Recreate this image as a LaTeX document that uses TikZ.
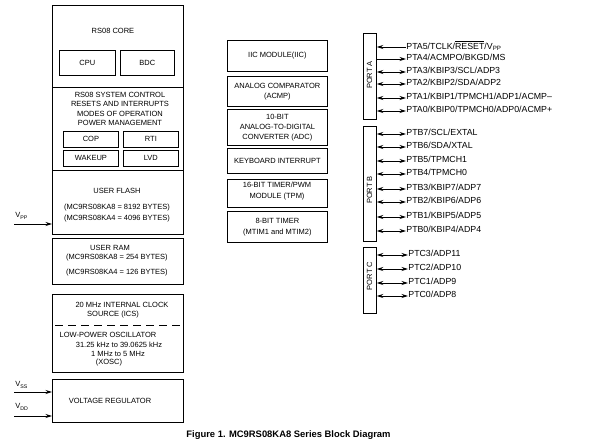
\documentclass[tikz,border=0pt]{standalone}
\usepackage{fontspec}
\setmainfont{Liberation Sans}
\usetikzlibrary{arrows.meta}
\newcommand\pinsig[6]{%
  \coordinate (#2) at (#4,#3);
  \node[sig] (#2t) at (#4,#3-1.5) {#6};
  \draw[#5] (#1.east |- #2) -- (#2);}
\begin{document}
\begin{tikzpicture}[x=1pt,y=-1pt,line width=0.75pt,
  >={Stealth[length=6.5pt,width=4pt]},
  box/.style={draw, anchor=north west, inner sep=0pt},
  txt/.style={font=\fontsize{7.5}{10}\selectfont, align=center, inner sep=0pt},
  lead/.style={font=\fontsize{7.5}{#1}\selectfont},
  sig/.style={font=\fontsize{8.8}{10}\selectfont, anchor=west, inner sep=0pt},
  plab/.style={rotate=90, font=\fontsize{7.5}{9}\selectfont, inner sep=0pt},
  lbl/.style={font=\fontsize{7.5}{9}\selectfont, anchor=west, inner sep=0pt}]
\useasboundingbox (0,0) rectangle (596,446);
% core
\node[box, minimum width=131, minimum height=82] (core) at (52,5) {};
\node[txt] (coret) at (113,31) {RS08 CORE};
\node[box, txt, minimum width=56, minimum height=25] (cpu) at (59,50) {CPU};
\node[box, txt, minimum width=54, minimum height=25] (bdc) at (120,50) {BDC};
% system control
\node[box, minimum width=131, minimum height=83] (sys) at (52,87) {};
\node[txt, lead=9.3] (syst) at (120,109) {RS08 SYSTEM CONTROL\\RESETS AND INTERRUPTS\\MODES OF OPERATION\\POWER MANAGEMENT};
\node[box, txt, minimum width=55, minimum height=16] (cop) at (63,131) {COP};
\node[box, txt, minimum width=55, minimum height=16] (rti) at (123,131) {RTI};
\node[box, txt, minimum width=55, minimum height=16] (wak) at (63,150) {WAKEUP};
\node[box, txt, minimum width=55, minimum height=16] (lvd) at (123,150) {LVD};
% flash
\node[box, minimum width=131, minimum height=64] (flash) at (52,170) {};
\node[txt] (flasht) at (117,191) {USER FLASH};
\node[txt, lead=11] (flashs) at (117,213.5) {(MC9RS08KA8 = 8192 BYTES)\\(MC9RS08KA4 = 4096 BYTES)};
% ram
\node[box, minimum width=131, minimum height=46] (ram) at (52,238) {};
\node[txt] (ramt) at (110,248) {USER RAM};
\node[txt, lead=15] (rams) at (117,265.5) {(MC9RS08KA8 = 254 BYTES)\\(MC9RS08KA4 = 126 BYTES)};
% clock
\node[box, minimum width=131, minimum height=78] (clk) at (52,294) {};
\node[txt] (ics1) at (122,305) {20 MHz INTERNAL CLOCK};
\node[txt] (ics2) at (113,315) {SOURCE (ICS)};
\coordinate (dsh) at (55,325);
\coordinate (dshe) at (181,325);
\draw[dash pattern=on 8pt off 5pt] (dsh) -- (dshe);
\node[txt] (xo1) at (108,335) {LOW-POWER OSCILLATOR};
\node[txt] (xo2) at (119,345) {31.25 kHz to 39.0625 kHz};
\node[txt] (xo3) at (118,354) {1 MHz to 5 MHz};
\node[txt] (xo4) at (109,363) {(XOSC)};
% regulator
\node[box, minimum width=131, minimum height=43] (reg) at (52,379) {};
\node[txt] (regt) at (110,401) {VOLTAGE REGULATOR};
% power inputs
\coordinate (vpp) at (14,224);
\draw[->] (vpp) -- (flash.west |- vpp);
\node[lbl] (vppl) at (15,216) {V\textsubscript{PP}};
\coordinate (vss) at (14,392);
\draw[->] (vss) -- (reg.west |- vss);
\node[lbl] (vssl) at (15,385) {V\textsubscript{SS}};
\coordinate (vdd) at (14,416);
\draw[->] (vdd) -- (reg.west |- vdd);
\node[lbl] (vddl) at (15,407) {V\textsubscript{DD}};
% middle column
\node[box, txt, minimum width=100, minimum height=31] (iic) at (227,40) {IIC MODULE(IIC)};
\node[box, txt, lead=10, minimum width=100, minimum height=30] (acmp) at (227,76) {ANALOG COMPARATOR\\(ACMP)};
\node[box, txt, lead=10, minimum width=100, minimum height=36] (adc) at (227,109) {10-BIT\\ANALOG-TO-DIGITAL\\CONVERTER (ADC)};
\node[box, txt, minimum width=100, minimum height=25] (kbi) at (227,148) {KEYBOARD INTERRUPT};
\node[box, minimum width=100, minimum height=28] (tpm) at (227,179) {};
\node[txt, lead=11] (tpmt) at (277,191.5) {16-BIT TIMER/PWM\\MODULE (TPM)};
\node[box, txt, lead=11, minimum width=100, minimum height=31] (mtim) at (227,211) {8-BIT TIMER\\(MTIM1 and MTIM2)};
% ports
\node[box, minimum width=13, minimum height=86] (pa) at (363,33) {};
\node[plab] (pal) at (369.5,75) {PORT A};
\node[box, minimum width=13, minimum height=115] (pb) at (363,126) {};
\node[plab] (pbl) at (369.5,190) {PORT B};
\node[box, minimum width=13, minimum height=66] (pc) at (363,247) {};
\node[plab] (pcl) at (369.5,276) {PORT C};
% port A pins
\pinsig{pa}{a5}{47}{406}{<-}{PTA5/TCLK/$\overline{\mbox{RESET}}$/V\textsubscript{PP}}
\pinsig{pa}{a4}{59}{406}{->}{PTA4/ACMPO/BKGD/MS}
\pinsig{pa}{a3}{72}{406}{<->}{PTA3/KBIP3/SCL/ADP3}
\pinsig{pa}{a2}{84}{406}{<->}{PTA2/KBIP2/SDA/ADP2}
\pinsig{pa}{a1}{98}{406}{<->}{PTA1/KBIP1/TPMCH1/ADP1/ACMP–}
\pinsig{pa}{a0}{111}{406}{<->}{PTA0/KBIP0/TPMCH0/ADP0/ACMP+}
% port B pins
\pinsig{pb}{b7}{134}{406}{<->}{PTB7/SCL/EXTAL}
\pinsig{pb}{b6}{147}{406}{<->}{PTB6/SDA/XTAL}
\pinsig{pb}{b5}{161}{406}{<->}{PTB5/TPMCH1}
\pinsig{pb}{b4}{174}{406}{<->}{PTB4/TPMCH0}
\pinsig{pb}{b3}{189}{406}{<->}{PTB3/KBIP7/ADP7}
\pinsig{pb}{b2}{202}{406}{<->}{PTB2/KBIP6/ADP6}
\pinsig{pb}{b1}{217}{406}{<->}{PTB1/KBIP5/ADP5}
\pinsig{pb}{b0}{231}{406}{<->}{PTB0/KBIP4/ADP4}
% port C pins
\pinsig{pc}{c3}{255}{408}{<->}{PTC3/ADP11}
\pinsig{pc}{c2}{269}{408}{<->}{PTC2/ADP10}
\pinsig{pc}{c1}{283}{408}{<->}{PTC1/ADP9}
\pinsig{pc}{c0}{296}{408}{<->}{PTC0/ADP8}
% caption
\node[font=\bfseries\fontsize{9.4}{11}\selectfont, inner sep=0pt] (cap) at (288.5,435) {Figure 1. MC9RS08KA8 Series Block Diagram};
\end{tikzpicture}
\end{document}
